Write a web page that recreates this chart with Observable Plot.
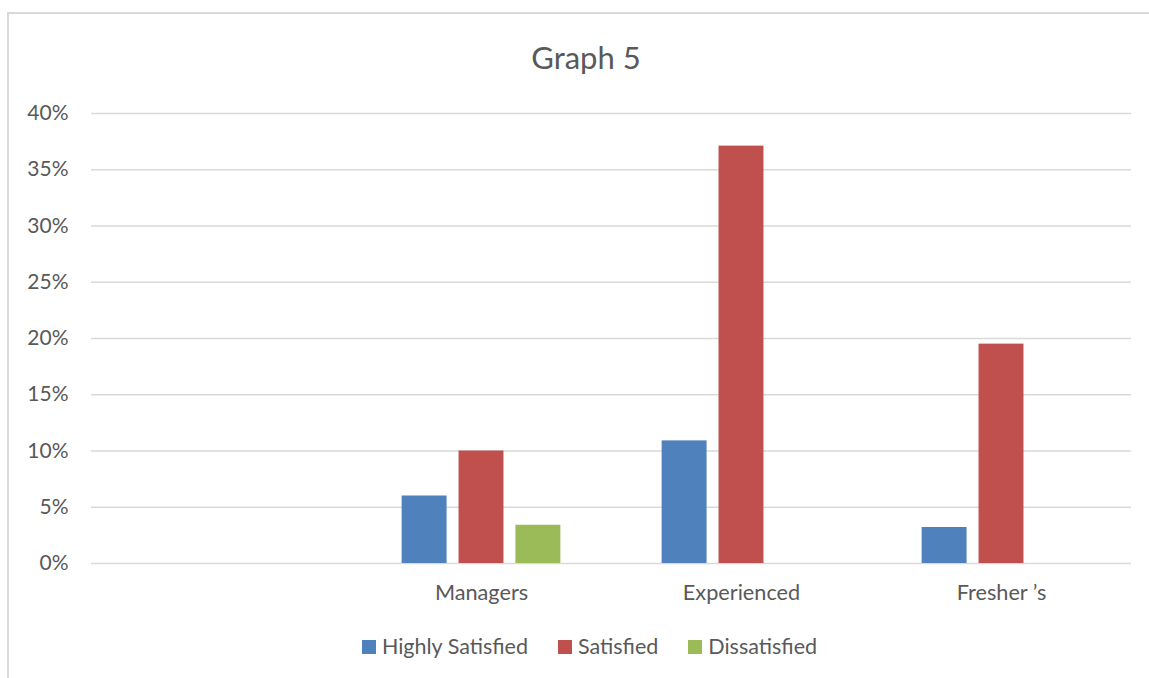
<!DOCTYPE html>
<html>
<head>
<meta charset="utf-8">
<script src="https://cdn.jsdelivr.net/npm/d3@7"></script>
<script src="https://cdn.jsdelivr.net/npm/@observablehq/plot@0.6"></script>
<style>
  html, body { margin: 0; padding: 0; background: #fff; }
  #chart { position: relative; width: 1149px; height: 678px; overflow: hidden; font-family: Lato, "Open Sans", sans-serif; color: #595959; }
  #frame { position: absolute; left: 7px; top: 12px; width: 1156px; height: 720px; border: 2px solid #d9d9d9; box-sizing: border-box; }
  #title { position: absolute; left: 8px; width: 1156px; top: 42px; text-align: center; font-size: 31px; line-height: 31px; }
  #plot { position: absolute; left: 0; top: 95px; }
  #legend { position: absolute; left: 8px; width: 1163px; top: 636px; display: flex; justify-content: center; font-size: 21.5px; line-height: 21px; }
  #legend .item { margin: 0 15px; white-space: nowrap; }
  #legend .swatch { display: inline-block; width: 14px; height: 14px; margin-right: 6px; vertical-align: baseline; }
</style>
</head>
<body>
<div id="chart">
  <div id="frame"></div>
  <div id="title">Graph 5</div>
  <div id="plot"></div>
  <div id="legend"></div>
</div>
<script>
// Categories along the axis (the first slot is left blank)
const categories = ["", "Managers", "Experienced", "Fresher ’s"];
const seriesNames = ["Highly Satisfied", "Satisfied", "Dissatisfied"];
const seriesColors = ["#4F81BD", "#C0504D", "#9BBB59"];

// Percent of respondents per category
const highlySatisfied = [null, 6.0, 10.9, 3.2];
const satisfied       = [null, 10.0, 37.1, 19.5];
const dissatisfied    = [null, 3.4, null, null];

// Value axis ticks (percent)
const yTicks = [0, 5, 10, 15, 20, 25, 30, 35, 40];

const seriesValues = [highlySatisfied, satisfied, dissatisfied];
const rows = categories.flatMap((category, i) =>
  seriesNames.map((series, j) => ({ category, series, value: seriesValues[j][i] }))
).filter(d => d.value != null);

// One grid rule per tick in every category slot, so the lines run across the whole plot
const gridRows = categories.flatMap(category => yTicks.map(tick => ({ category, tick })));

const chart = Plot.plot({
  width: 1149,
  height: 525,
  marginTop: 18,
  marginBottom: 57,
  marginLeft: 90,
  marginRight: 17,
  style: { fontFamily: "Lato, 'Open Sans', sans-serif", fontSize: "21px", color: "#595959", background: "transparent", overflow: "visible" },
  fx: { domain: categories, padding: 0, label: null },
  x: { domain: seriesNames, paddingInner: 0.21, paddingOuter: 0.89, axis: null, round: false },
  y: { domain: [0, 40], label: null },
  color: { domain: seriesNames, range: seriesColors },
  marks: [
    Plot.ruleY(gridRows, { fx: "category", y: "tick", stroke: "#d9d9d9", strokeWidth: 1.5 }),
    Plot.barY(rows, { fx: "category", x: "series", y: "value", fill: "series" }),
    Plot.axisY({ ticks: yTicks, tickSize: 0, tickPadding: 23, tickFormat: d => d + "%", fontSize: 21, label: null }),
    Plot.axisFx({ anchor: "bottom", tickSize: 0, tickPadding: 21, fontSize: 21.7, label: null })
  ]
});
document.getElementById("plot").appendChild(chart);

// Legend
const legend = document.getElementById("legend");
seriesNames.forEach((name, i) => {
  const item = document.createElement("span");
  item.className = "item";
  const sw = document.createElement("span");
  sw.className = "swatch";
  sw.style.background = seriesColors[i];
  item.appendChild(sw);
  item.appendChild(document.createTextNode(name));
  legend.appendChild(item);
});
</script>
</body>
</html>
